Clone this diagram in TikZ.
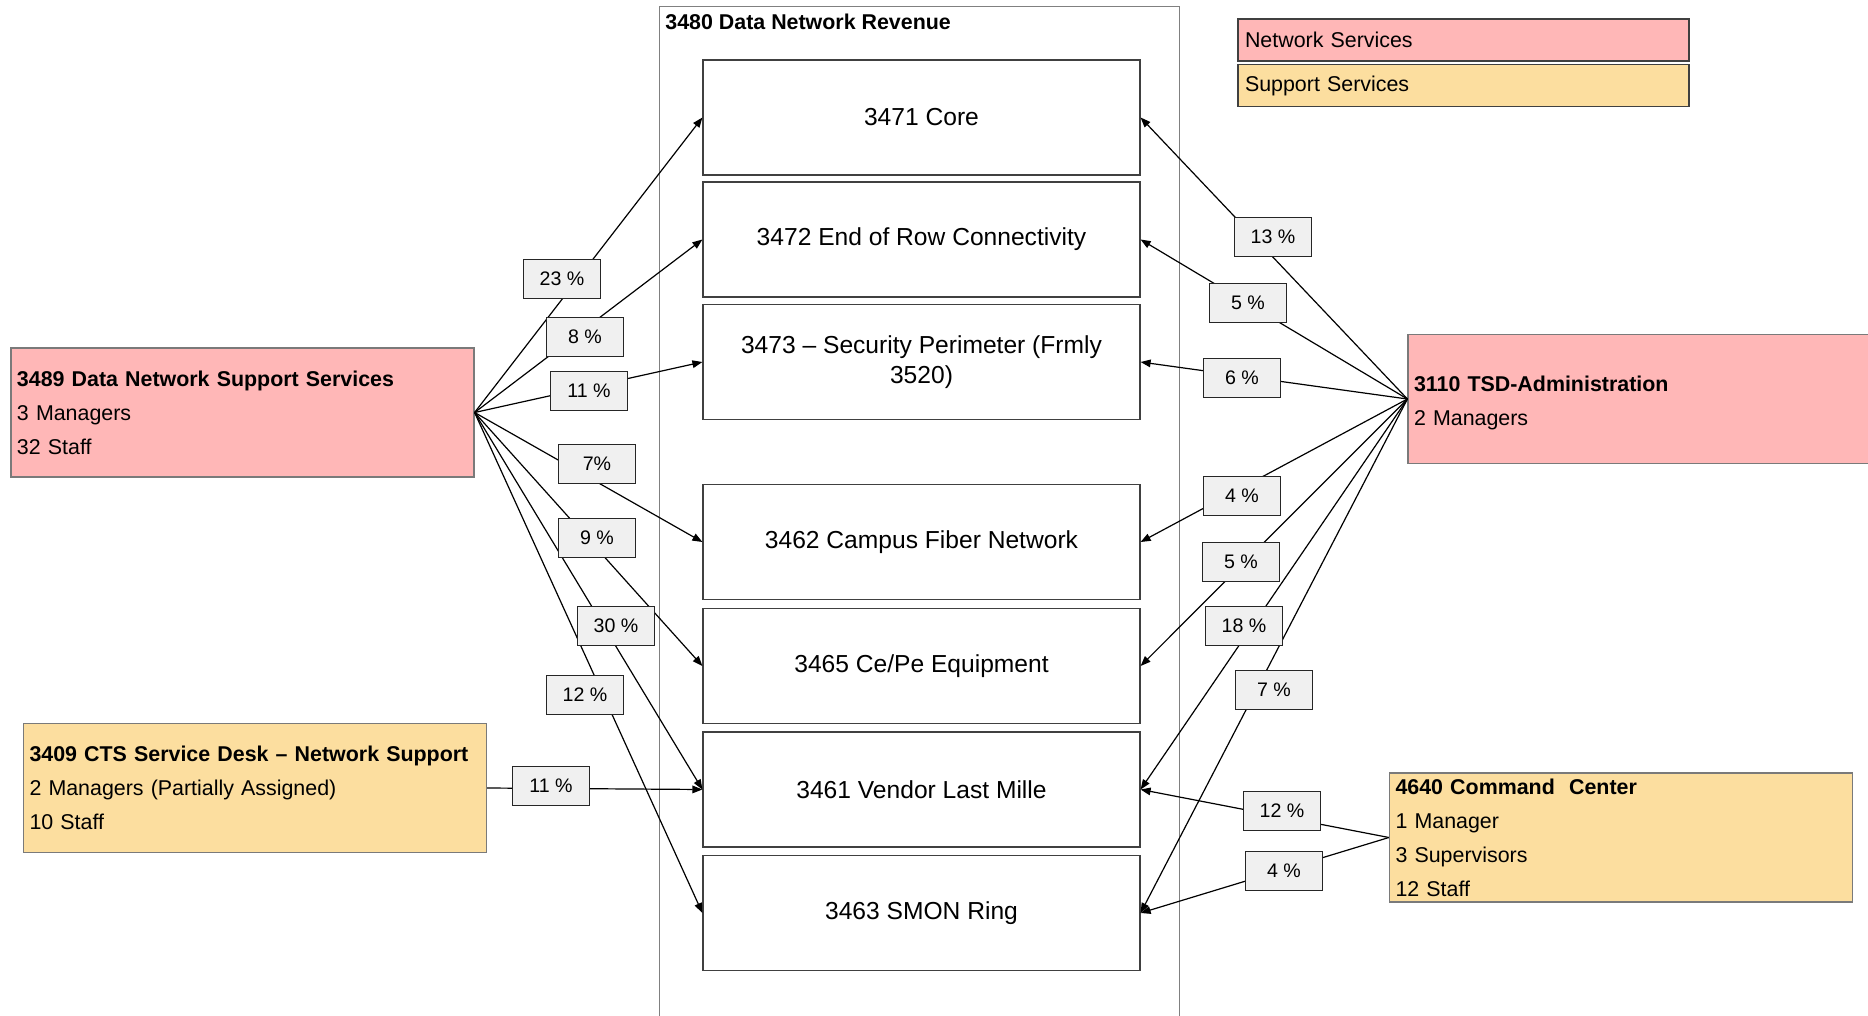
\documentclass[tikz,border=0pt]{standalone}
\usepackage{fontspec}
\setmainfont{Liberation Sans}
\usetikzlibrary{arrows.meta}
\definecolor{netpink}{HTML}{FFB7B7}
\definecolor{supyel}{HTML}{FCDE9F}
\definecolor{lblgray}{HTML}{F0F0F0}
\definecolor{edgegray}{HTML}{404040}
\definecolor{orgedge}{HTML}{7A7A7A}

\begin{document}
\begin{tikzpicture}[x=0.5pt,y=-0.5pt,
  unit/.style={draw=edgegray, line width=0.6pt, fill=white,
    minimum width=218.5pt, minimum height=57.5pt, inner sep=0pt,
    align=center, font=\fontsize{12.3}{15}\selectfont},
  org/.style={draw=orgedge, line width=0.6pt, inner xsep=3pt, inner ysep=0pt,
    align=left, text width=225.5pt, minimum height=64.5pt,
    font=\fontsize{10.7}{17}\selectfont},
  legend/.style={draw=edgegray, line width=0.6pt, inner xsep=3.5pt, inner ysep=0pt,
    align=left, text width=218.5pt, minimum height=21pt,
    font=\fontsize{10.7}{13}\selectfont},
  lbl/.style={draw=black!85, line width=0.8pt, fill=lblgray,
    minimum width=38.5pt, minimum height=19.5pt, inner sep=0pt,
    font=\fontsize{9.8}{12}\selectfont},
  conn/.style={draw=black, line width=0.6pt,
    -{Triangle[length=5pt,width=3.8pt]}},
]
\useasboundingbox (0,0) rectangle (1868,1016);
\clip (0,0) rectangle (1868,1016);

% revenue container, open at the bottom
\draw[draw=gray, line width=0.5pt] (659,1030) |- (1179,7) -- (1179,1030);
\node[anchor=west, inner sep=0pt, font=\fontsize{10.7}{13}\selectfont\bfseries]
  (revtitle) at (665,22) {3480 Data Network Revenue};

% revenue units
\node[unit] (core) at (921.5,117.5) {3471 Core};
\node[unit] (eor)  at (921.5,239.5) {3472 End of Row Connectivity};
\node[unit] (sec)  at (921.5,362)   {3473 -- Security Perimeter (Frmly\\3520)};
\node[unit] (fib)  at (921.5,542)   {3462 Campus Fiber Network};
\node[unit] (cepe) at (921.5,666)   {3465 Ce/Pe Equipment};
\node[unit] (vlm)  at (921.5,789.5) {3461 Vendor Last Mille};
\node[unit] (smon) at (921.5,913)   {3463 SMON Ring};

% legend
\node[legend, fill=netpink] (lgnet) at (1463.5,40) {Network Services};
\node[legend, fill=supyel]  (lgsup) at (1463.5,85.5) {Support Services};

% cost sources
\node[org, fill=netpink] (dnss) at (242.5,412.5)
  {\textbf{3489 Data Network Support Services}\\3 Managers\\32 Staff};
\node[org, fill=netpink, text width=230pt] (tsd) at (1644,399)
  {\rule{0pt}{11.5pt}\textbf{3110 TSD-Administration}\\2 Managers};
\node[org, fill=supyel] (cts) at (255,788)
  {\textbf{3409 CTS Service Desk -- Network Support}\\2 Managers (Partially Assigned)\\10 Staff};
\node[org, fill=supyel] (cmd) at (1621,837.5)
  {\textbf{4640 Command~ Center}\\1 Manager\\3 Supervisors\\12 Staff};

% allocations from 3489
\draw[conn] (dnss.east) -- (core.west);
\draw[conn] (dnss.east) -- (eor.west);
\draw[conn] (dnss.east) -- (sec.west);
\draw[conn] (dnss.east) -- (fib.west);
\draw[conn] (dnss.east) -- (cepe.west);
\draw[conn] (dnss.east) -- (vlm.west);
\draw[conn] (dnss.east) -- (smon.west);
% allocation from 3409
\draw[conn] (cts.east) -- (vlm.west);
% allocations from 3110
\draw[conn] (tsd.west) -- (core.east);
\draw[conn] (tsd.west) -- (eor.east);
\draw[conn] (tsd.west) -- (sec.east);
\draw[conn] (tsd.west) -- (fib.east);
\draw[conn] (tsd.west) -- (cepe.east);
\draw[conn] (tsd.west) -- (vlm.east);
\draw[conn] (tsd.west) -- (smon.east);
% allocations from 4640
\draw[conn] (cmd.west) -- (vlm.east);
\draw[conn] (cmd.west) -- (smon.east);

% percentage labels
\node[lbl] (p23)  at (562,279) {23 \%};
\node[lbl] (p8)   at (585,337) {8 \%};
\node[lbl] (p11a) at (589,391) {11 \%};
\node[lbl] (p7a)  at (597,464) {7\%};
\node[lbl] (p9)   at (597,538) {9 \%};
\node[lbl] (p30)  at (616,626) {30 \%};
\node[lbl] (p12a) at (585,695) {12 \%};
\node[lbl] (p11b) at (551,786) {11 \%};

\node[lbl] (p13)  at (1273,237) {13 \%};
\node[lbl] (p5a)  at (1248,303) {5 \%};
\node[lbl] (p6)   at (1242,378) {6 \%};
\node[lbl] (p4a)  at (1242,496) {4 \%};
\node[lbl] (p5b)  at (1241,562) {5 \%};
\node[lbl] (p18)  at (1244,626) {18 \%};
\node[lbl] (p7b)  at (1274,690) {7 \%};
\node[lbl] (p12b) at (1282,811) {12 \%};
\node[lbl] (p4b)  at (1284,871) {4 \%};
\end{tikzpicture}
\end{document}
